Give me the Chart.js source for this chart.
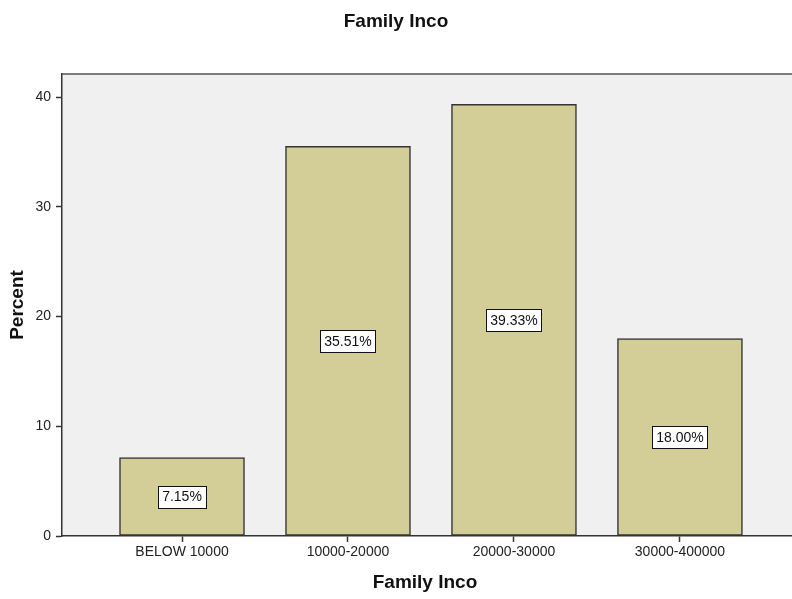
<!DOCTYPE html>
<html>
<head>
<meta charset="utf-8">
<title>Family Inco</title>
<script src="https://cdn.jsdelivr.net/npm/chart.js@4/dist/chart.umd.min.js"></script>
<style>
  html, body { margin: 0; padding: 0; background: #ffffff; overflow: hidden; }
  #wrap { width: 792px; height: 599px; }
  canvas { display: block; }
</style>
</head>
<body>
<div id="wrap"><canvas id="chart" width="792" height="599"></canvas></div>
<script>
// Income bands and their share of respondents (percent)
const categories = ['BELOW 10000', '10000-20000', '20000-30000', '30000-400000'];
const percents = [7.15, 35.51, 39.33, 18.00];
const yTicks = [0, 10, 20, 30, 40];

const chartTitle = 'Family Inco';
const xTitle = 'Family Inco';
const yTitle = 'Percent';

const FONT = '"Liberation Sans", Arial, Helvetica, sans-serif';
const INK = '#222222';

// Grey plot background plus the top frame line
const plotFrame = {
  id: 'plotFrame',
  beforeDraw(chart) {
    const { ctx, chartArea: a } = chart;
    ctx.save();
    ctx.fillStyle = '#f0f0f0';
    ctx.fillRect(a.left, a.top, a.right - a.left, a.bottom - a.top);
    ctx.restore();
  },
  afterDraw(chart) {
    const { ctx, chartArea: a } = chart;
    ctx.save();
    ctx.strokeStyle = '#555555';
    ctx.lineWidth = 1.5;
    ctx.beginPath();
    ctx.moveTo(a.left, a.top);
    ctx.lineTo(a.right, a.top);
    ctx.stroke();
    ctx.restore();
  }
};

// Boxed percentage labels in the middle of each bar
const boxedLabels = {
  id: 'boxedLabels',
  afterDatasetsDraw(chart) {
    const { ctx } = chart;
    const meta = chart.getDatasetMeta(0);
    ctx.save();
    ctx.font = '14px ' + FONT;
    ctx.textAlign = 'center';
    ctx.textBaseline = 'middle';
    meta.data.forEach((bar, i) => {
      const text = percents[i].toFixed(2) + '%';
      const cx = bar.x;
      const cy = (bar.y + bar.base) / 2;
      const w = Math.round(ctx.measureText(text).width + 8);
      const h = 22;
      const x0 = Math.round(cx - w / 2) + 0.5;
      const y0 = Math.round(cy - h / 2) + 0.5;
      ctx.fillStyle = '#ffffff';
      ctx.fillRect(x0, y0, w, h);
      ctx.strokeStyle = '#111111';
      ctx.lineWidth = 1;
      ctx.strokeRect(x0, y0, w, h);
      ctx.fillStyle = '#111111';
      ctx.fillText(text, cx, cy + 1);
    });
    ctx.restore();
  }
};

// Chart title and both axis titles
const titles = {
  id: 'titles',
  afterDraw(chart) {
    const { ctx, chartArea: a } = chart;
    ctx.save();
    ctx.fillStyle = '#111111';
    ctx.textAlign = 'center';
    ctx.textBaseline = 'middle';
    ctx.font = 'bold 19px ' + FONT;
    ctx.fillText(chartTitle, 396, 22);
    ctx.fillText(xTitle, (a.left + a.right) / 2 - 2, 583);
    ctx.translate(18, (a.top + a.bottom) / 2);
    ctx.rotate(-Math.PI / 2);
    ctx.fillText(yTitle, 0, 0);
    ctx.restore();
  }
};

new Chart(document.getElementById('chart'), {
  type: 'bar',
  data: {
    datasets: [{
      data: percents.map((v, i) => ({ x: i, y: v })),
      backgroundColor: '#d3ce97',
      borderColor: '#333333',
      borderWidth: 1.5,
      borderSkipped: false,
      barThickness: 125
    }]
  },
  options: {
    responsive: false,
    animation: false,
    devicePixelRatio: 1,
    layout: { padding: { top: 74, right: 0, bottom: 0, left: 0 } },
    plugins: {
      legend: { display: false },
      title: { display: false },
      tooltip: { enabled: false }
    },
    scales: {
      x: {
        type: 'linear',
        offset: false,
        min: -0.723,
        max: 3.675,
        afterBuildTicks(scale) {
          scale.ticks = categories.map((_, i) => ({ value: i }));
        },
        afterFit(scale) { scale.height = 63; },
        grid: {
          offset: false,
          drawOnChartArea: false,
          drawTicks: true,
          tickLength: 6,
          tickColor: '#333333',
          tickWidth: 1.5
        },
        border: { display: true, color: '#333333', width: 1.5 },
        ticks: {
          autoSkip: false,
          maxRotation: 0,
          padding: 2,
          color: INK,
          font: { family: FONT, size: 14 },
          callback: (v) => categories[v]
        }
      },
      y: {
        type: 'linear',
        min: 0,
        max: 42.1,
        afterBuildTicks(scale) {
          scale.ticks = yTicks.map(v => ({ value: v }));
        },
        afterFit(scale) { scale.width = 62; },
        grid: {
          drawOnChartArea: false,
          drawTicks: true,
          tickLength: 6,
          tickColor: '#333333',
          tickWidth: 1.5
        },
        border: { display: true, color: '#333333', width: 1.5 },
        ticks: {
          padding: 5,
          color: INK,
          font: { family: FONT, size: 14 }
        }
      }
    }
  },
  plugins: [plotFrame, boxedLabels, titles]
});
</script>
</body>
</html>
